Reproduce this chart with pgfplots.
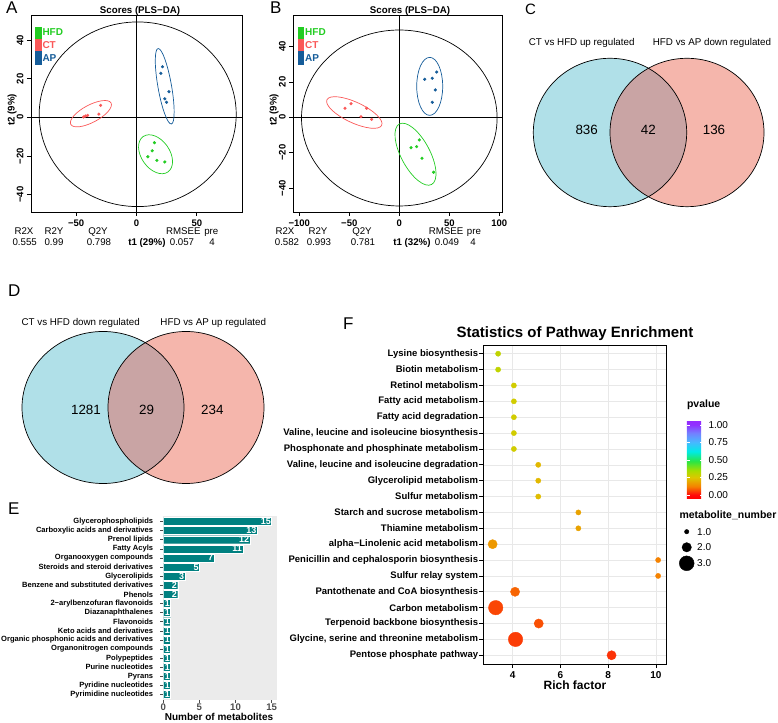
\documentclass[border=0pt]{standalone}
\usepackage{fontspec}
\setmainfont{Liberation Sans}
\usepackage{pgfplots}
\usepackage{pgfplotstable}
\pgfplotsset{compat=1.18}
\pgfplotsset{/pgf/number format/assume math mode=true}

\newcommand{\fs}[1]{\fontsize{#1}{#1}\selectfont}
% rotated ellipse: colour, centre x, centre y, angle, radii in pt
\newcommand{\rotell}[6]{\draw[#1, line width=0.7pt, rotate around={#4:(axis cs:#2,#3)}] (axis cs:#2,#3) ellipse [x radius=#5pt, y radius=#6pt];}

\definecolor{hfd}{RGB}{34,204,34}
\definecolor{ctred}{RGB}{250,88,88}
\definecolor{apblue}{RGB}{21,92,153}
\definecolor{vennblue}{RGB}{176,224,232}
\definecolor{vennred}{RGB}{245,182,172}
\definecolor{vennmix}{RGB}{201,164,164}
\definecolor{tealbar}{RGB}{0,128,128}
\definecolor{panelgrey}{RGB}{235,235,235}
\definecolor{tickgrey}{RGB}{77,77,77}

\pgfplotsset{
  plsda/.style={
    anchor=south west, scale only axis, clip=true,
    axis line style={line width=0.7pt},
    tick align=outside, xtick pos=bottom, ytick pos=left,
    major tick length=4pt, tick style={black, line width=0.7pt},
    ticklabel style={font=\bfseries\fs{9.5}},
    yticklabel style={rotate=90, anchor=south},
  },
}

% panel E: number of metabolites per class
\pgfplotstableread{
val cat
15 1
13 2
12 3
11 4
7 5
5 6
3 7
2 8
2 9
1 10
1 11
1 12
1 13
1 14
1 15
1 16
1 17
1 18
1 19
1 20
}\Ecounts

% panel F: rich factor, row, pvalue (one table per metabolite number)
\pgfplotstableread{
rich row p
3.39 1 0.30
3.39 2 0.30
4.05 3 0.27
4.05 4 0.27
4.05 5 0.27
4.05 6 0.27
4.05 7 0.27
5.07 8 0.22
5.07 9 0.22
5.07 10 0.23
6.75 11 0.18
6.75 12 0.18
10.09 14 0.12
10.09 15 0.12
}\Fone
\pgfplotstableread{
rich row p
3.16 13 0.16
4.10 16 0.09
5.09 18 0.07
8.14 20 0.04
}\Ftwo
\pgfplotstableread{
rich row p
3.29 17 0.06
4.12 19 0.05
}\Fthree

\begin{document}
\begin{tikzpicture}
\path[use as bounding box] (0pt,0pt) rectangle (778pt,722pt);

% ---------------- A ----------------
\begin{axis}[plsda, at={(31pt,510pt)}, width=211pt, height=197pt,
  xmin=-87.5, xmax=87.5, ymin=-49, ymax=53,
  xtick={-50,0,50}, xticklabels={−50,0,50},
  ytick={-40,-20,0,20,40}, yticklabels={−40,−20,0,20,40}]
\draw[line width=0.7pt] (axis cs:-87.5,0) -- (axis cs:87.5,0);
\draw[line width=0.7pt] (axis cs:0,-49) -- (axis cs:0,53);
\draw[line width=0.7pt] (axis cs:1,1.6) ellipse [x radius=81.7, y radius=47.8];
\rotell{apblue}{23.4}{16.1}{-80}{38.3}{6.8}
\rotell{ctred}{-37.8}{1.9}{28}{22.8}{8.7}
\rotell{hfd}{15.8}{-19.1}{-55}{21.6}{14.2}
\addplot[only marks, mark=*, mark size=1.4pt, hfd] coordinates {
  (14.9,-13.1) (13,-17.3) (9.4,-20.4) (16.9,-22.3) (23.5,-23.1)};
\addplot[only marks, mark=*, mark size=1.4pt, ctred] coordinates {
  (-43.9,0.2) (-42.3,0.7) (-40.6,1.0) (-31.2,1.7) (-29.8,6.2)};
\addplot[only marks, mark=*, mark size=1.4pt, apblue] coordinates {
  (21.6,26.2) (20.2,22.8) (26.9,13.3) (23.5,9.6) (24.9,7.8)};
\end{axis}

% ---------------- B ----------------
\begin{axis}[plsda, at={(293.3pt,510pt)}, width=208.7pt, height=197pt,
  xmin=-106, xmax=102.7, ymin=-53.6, ymax=57.9,
  xtick={-100,-50,0,50,100}, xticklabels={−100,−50,0,50,100},
  ytick={-40,-20,0,20,40}, yticklabels={−40,−20,0,20,40}]
\draw[line width=0.7pt] (axis cs:-106,0) -- (axis cs:102.7,0);
\draw[line width=0.7pt] (axis cs:0,-53.6) -- (axis cs:0,57.9);
\draw[line width=0.7pt] (axis cs:0,-0.4) ellipse [x radius=97.8, y radius=49.8];
\rotell{apblue}{30.4}{17.5}{90}{29}{13}
\rotell{ctred}{-45}{2.7}{-25}{30.2}{10.3}
\rotell{hfd}{16.2}{-20.9}{-62}{34.3}{14.4}
\addplot[only marks, mark=*, mark size=1.4pt, hfd] coordinates {
  (11.7,-17.2) (17.3,-16.6) (20,-12.8) (22.7,-23.2) (34.3,-31.1)};
\addplot[only marks, mark=*, mark size=1.4pt, ctred] coordinates {
  (-54.3,5.1) (-48.3,7.7) (-32.7,5.1) (-38.3,0.3) (-27.7,-1.2)};
\addplot[only marks, mark=*, mark size=1.4pt, apblue] coordinates {
  (25.4,21.5) (33,22.1) (37.4,25.6) (36,15.5) (33,8.5)};
\end{axis}

% ---------------- C (Venn) ----------------
\begin{axis}[at={(510pt,482pt)}, anchor=south west, scale only axis,
  width=268pt, height=240pt, xmin=510, xmax=778, ymin=482, ymax=722,
  hide axis, clip=false]
\fill[vennblue] (axis cs:610,589.5) ellipse [x radius=76.7, y radius=74.2];
\fill[vennred] (axis cs:687,589.5) ellipse [x radius=77, y radius=74.2];
\begin{scope}
\clip (axis cs:610,589.5) ellipse [x radius=76.7, y radius=74.2];
\fill[vennmix] (axis cs:687,589.5) ellipse [x radius=77, y radius=74.2];
\end{scope}
\draw[line width=0.7pt] (axis cs:610,589.5) ellipse [x radius=76.7, y radius=74.2];
\draw[line width=0.7pt] (axis cs:687,589.5) ellipse [x radius=77, y radius=74.2];
\node[font=\fs{13.4}] at (axis cs:586.7,592) {836};
\node[font=\fs{13.4}] at (axis cs:648.3,592) {42};
\node[font=\fs{13.4}] at (axis cs:714,592) {136};
\end{axis}

% ---------------- D (Venn) ----------------
\begin{axis}[at={(0pt,232pt)}, anchor=south west, scale only axis,
  width=270pt, height=240pt, xmin=0, xmax=270, ymin=232, ymax=472,
  hide axis, clip=false]
\fill[vennblue] (axis cs:103,314.5) ellipse [x radius=81, y radius=76];
\fill[vennred] (axis cs:186,314.5) ellipse [x radius=78, y radius=76];
\begin{scope}
\clip (axis cs:103,314.5) ellipse [x radius=81, y radius=76];
\fill[vennmix] (axis cs:186,314.5) ellipse [x radius=78, y radius=76];
\end{scope}
\draw[line width=0.7pt] (axis cs:103,314.5) ellipse [x radius=81, y radius=76];
\draw[line width=0.7pt] (axis cs:186,314.5) ellipse [x radius=78, y radius=76];
\node[font=\fs{13.4}] at (axis cs:86,312) {1281};
\node[font=\fs{13.4}] at (axis cs:146.7,312) {29};
\node[font=\fs{13.4}] at (axis cs:212.3,312) {234};
\end{axis}

% ---------------- E ----------------
\begin{axis}[at={(163.3pt,22pt)}, anchor=south west, scale only axis,
  width=113.4pt, height=184pt,
  xmin=0, xmax=15.7, ymin=0.4, ymax=20.6, y dir=reverse,
  axis background/.style={fill=panelgrey}, axis line style={draw=none},
  xtick={0,5,10,15}, xticklabels={0,5,10,15},
  ytick={1,...,20},
  yticklabels={Glycerophospholipids, Carboxylic acids and derivatives, Prenol lipids,
    Fatty Acyls, Organooxygen compounds, Steroids and steroid derivatives, Glycerolipids,
    Benzene and substituted derivatives, Phenols, 2−arylbenzofuran flavonoids,
    Diazanaphthalenes, Flavonoids, Keto acids and derivatives,
    Organic phosphonic acids and derivatives, Organonitrogen compounds, Polypeptides,
    Purine nucleotides, Pyrans, Pyridine nucleotides, Pyrimidine nucleotides},
  tick align=outside, xtick pos=bottom, ytick pos=left, major tick length=3pt,
  tick style={tickgrey, line width=0.5pt},
  xticklabel style={font=\bfseries\fs{9.6}, text=tickgrey, yshift=2.5pt},
  yticklabel style={font=\bfseries\fs{7.55}, inner sep=0pt, xshift=-7pt}]
\addplot[xbar, bar width=0.88, fill=tealbar, draw=white, line width=0.3pt,
  point meta=x, nodes near coords,
  every node near coord/.style={anchor=east, text=white, font=\bfseries\fs{9}, inner sep=0.6pt}]
  table[x=val, y=cat] {\Ecounts};
\end{axis}

% ---------------- F ----------------
\begin{axis}[at={(483.3pt,58pt)}, anchor=south west, scale only axis,
  width=182.7pt, height=319pt,
  xmin=2.77, xmax=10.42, ymin=0.45, ymax=20.55, y dir=reverse,
  xtick={4,6,8,10}, xticklabels={4,6,8,10},
  ytick={1,...,20},
  yticklabels={{Lysine biosynthesis},{Biotin metabolism},{Retinol metabolism},
    {Fatty acid metabolism},{Fatty acid degradation},
    {Valine, leucine and isoleucine biosynthesis},
    {Phosphonate and phosphinate metabolism},
    {Valine, leucine and isoleucine degradation},{Glycerolipid metabolism},
    {Sulfur metabolism},{Starch and sucrose metabolism},{Thiamine metabolism},
    {alpha−Linolenic acid metabolism},{Penicillin and cephalosporin biosynthesis},
    {Sulfur relay system},{Pantothenate and CoA biosynthesis},{Carbon metabolism},
    {Terpenoid backbone biosynthesis},{Glycine, serine and threonine metabolism},
    {Pentose phosphate pathway}},
  grid=major, grid style={draw=gray!18, line width=0.6pt},
  axis line style={line width=0.9pt},
  tick align=outside, xtick pos=bottom, ytick pos=left, major tick length=4pt,
  tick style={black, line width=0.8pt},
  xticklabel style={font=\bfseries\fs{10}},
  yticklabel style={font=\bfseries\fs{9.5}, inner sep=0pt, xshift=-1pt},
  colormap={pv}{rgb255(0pt)=(255,0,0) rgb255(5.3pt)=(255,10,10) rgb255(15.9pt)=(245,130,0)
    rgb255(27.4pt)=(220,200,0) rgb255(36.3pt)=(165,222,0) rgb255(47.8pt)=(40,230,70)
    rgb255(60.2pt)=(0,235,230) rgb255(71.7pt)=(70,185,255) rgb255(83.2pt)=(115,130,255)
    rgb255(93.8pt)=(145,50,255) rgb255(100pt)=(150,40,255)},
  point meta min=-0.06, point meta max=1.07,
  colorbar,
  colorbar style={at={(parent axis.south east)}, anchor=south west,
    xshift=12.3pt, yshift=165pt, scale only axis, width=16.7pt, height=79pt,
    ytick={0,0.25,0.5,0.75,1}, yticklabels={0.00,0.25,0.50,0.75,1.00},
    yticklabel style={font=\fs{10}, xshift=1.5pt},
    axis line style={draw=none}, tick align=inside, major tick length=3.5pt,
    tick style={white, line width=0.6pt},
    title={pvalue}, title style={font=\bfseries\fs{10.5}, at={(0,1)}, anchor=base west,
      inner sep=0pt, yshift=6.5pt}}]
\addplot[scatter, only marks, mark=*, mark size=2.6pt, point meta=explicit,
  scatter/use mapped color={draw=mapped color, fill=mapped color}]
  table[x=rich, y=row, meta=p] {\Fone};
\addplot[scatter, only marks, mark=*, mark size=4.6pt, point meta=explicit,
  scatter/use mapped color={draw=mapped color, fill=mapped color}]
  table[x=rich, y=row, meta=p] {\Ftwo};
\addplot[scatter, only marks, mark=*, mark size=7.2pt, point meta=explicit,
  scatter/use mapped color={draw=mapped color, fill=mapped color}]
  table[x=rich, y=row, meta=p] {\Fthree};
\end{axis}

% size legend of F
\begin{axis}[at={(679pt,150pt)}, anchor=south west, scale only axis,
  width=40pt, height=60pt, xmin=0, xmax=40, ymin=0, ymax=60,
  hide axis, clip=false]
\addplot[only marks, mark=*, black, mark size=2.2pt] coordinates {(7.7,40.3)};
\addplot[only marks, mark=*, black, mark size=4.7pt] coordinates {(7.7,24.7)};
\addplot[only marks, mark=*, black, mark size=7.4pt] coordinates {(7.7,8.7)};
\node[anchor=west, font=\fs{10}, inner sep=0pt] at (axis cs:18,40.3) {1.0};
\node[anchor=west, font=\fs{10}, inner sep=0pt] at (axis cs:18,24.7) {2.0};
\node[anchor=west, font=\fs{10}, inner sep=0pt] at (axis cs:18,8.7) {3.0};
\node[anchor=base west, font=\bfseries\fs{10.5}, inner sep=0pt] at (axis cs:0.3,53) {metabolite\_number};
\end{axis}

% ---------------- texts ----------------
\begin{scope}[x=1pt, y=1pt]
\tikzset{lbl/.style={anchor=base west, inner sep=0pt, font=\fs{17}}}
\node[lbl] at (6,708) {A};
\node[lbl] at (270,708.7) {B};
\node[lbl, font=\fs{15}] at (525,707) {C};
\node[lbl] at (8,425.3) {D};
\node[lbl] at (8,207) {E};
\node[lbl] at (343,392) {F};

\node[anchor=base, font=\bfseries\fs{9.7}, inner sep=0pt] at (140,708) {Scores (PLS−DA)};
\node[anchor=base, font=\bfseries\fs{9.7}, inner sep=0pt] at (410,708) {Scores (PLS−DA)};
\node[rotate=90, font=\bfseries\fs{9.7}] at (12,612) {t2 (9\%)};
\node[rotate=90, font=\bfseries\fs{9.7}] at (274,612) {t2 (9\%)};

% legends of A and B
\foreach \lx/\tx in {35/42.3, 297.7/305} {
  \fill[hfd] (\lx,683.3) rectangle (\lx+6.7,695.3);
  \fill[ctred] (\lx,670.7) rectangle (\lx+6.7,683.3);
  \fill[apblue] (\lx,657) rectangle (\lx+6.7,670.7);
  \node[anchor=base west, inner sep=0pt, font=\bfseries\fs{10}, text=hfd] at (\tx,686) {HFD};
  \node[anchor=base west, inner sep=0pt, font=\bfseries\fs{10}, text=ctred] at (\tx,673) {CT};
  \node[anchor=base west, inner sep=0pt, font=\bfseries\fs{10}, text=apblue] at (\tx,660.5) {AP};
}

% model summaries under A and B
\tikzset{sm/.style={anchor=base, inner sep=0pt, font=\fs{9.7}}}
\node[sm] at (24,487) {R2X};   \node[sm] at (54,487) {R2Y};
\node[sm] at (98,487) {Q2Y};   \node[sm] at (183.3,487) {RMSEE};
\node[sm] at (211.3,487) {pre};
\node[sm] at (24.7,476) {0.555}; \node[sm] at (54,476) {0.99};
\node[sm] at (99,476) {0.798};
\node[sm, font=\bfseries\fs{9.7}] at (147,476) {t1 (29\%)};
\node[sm] at (182,476) {0.057}; \node[sm] at (212,476) {4};
\node[sm] at (285,487) {R2X};   \node[sm] at (318,487) {R2Y};
\node[sm] at (362,487) {Q2Y};   \node[sm] at (446,487) {RMSEE};
\node[sm] at (474,487) {pre};
\node[sm] at (287,476) {0.582}; \node[sm] at (319,476) {0.993};
\node[sm] at (363,476) {0.781};
\node[sm, font=\bfseries\fs{9.7}] at (412,476) {t1 (32\%)};
\node[sm] at (447,476) {0.049}; \node[sm] at (473,476) {4};

% Venn set names
\node[font=\fs{9.8}] at (581.7,678.7) {CT vs HFD up regulated};
\node[font=\fs{9.8}] at (712,678.7) {HFD vs AP down regulated};
\node[font=\fs{9.8}] at (80.7,399.3) {CT vs HFD down regulated};
\node[font=\fs{9.8}] at (213.3,399.3) {HFD vs AP up regulated};

% axis titles of E and F
\node[anchor=base, inner sep=0pt, font=\bfseries\fs{10}] at (219,1.8) {Number of metabolites};
\node[anchor=base, inner sep=0pt, font=\bfseries\fs{15}] at (575,384) {Statistics of Pathway Enrichment};
\node[anchor=base, inner sep=0pt, font=\bfseries\fs{12}] at (575,32) {Rich factor};
\end{scope}
\end{tikzpicture}
\end{document}
